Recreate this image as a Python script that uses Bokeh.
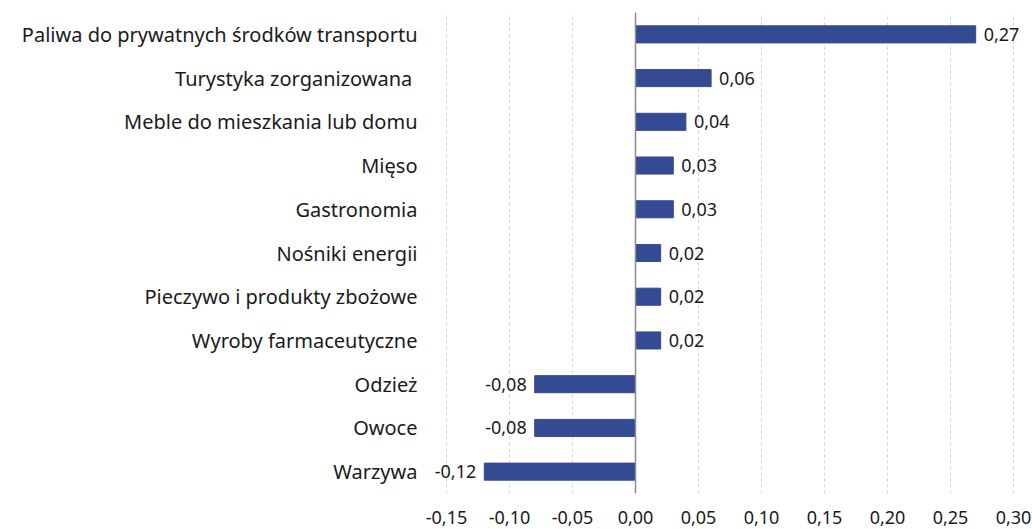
from bokeh.plotting import figure
from bokeh.models import ColumnDataSource, Range1d, FactorRange, LabelSet, Span, CustomJSTickFormatter, FixedTicker
from bokeh.core.properties import value
from bokeh.embed import file_html
from bokeh.resources import INLINE

categories = [
    "Paliwa do prywatnych środków transportu",
    "Turystyka zorganizowana ",
    "Meble do mieszkania lub domu",
    "Mięso",
    "Gastronomia",
    "Nośniki energii",
    "Pieczywo i produkty zbożowe",
    "Wyroby farmaceutyczne",
    "Odzież",
    "Owoce",
    "Warzywa",
]
values = [0.27, 0.06, 0.04, 0.03, 0.03, 0.02, 0.02, 0.02, -0.08, -0.08, -0.12]
x_ticks = [-0.15, -0.10, -0.05, 0.0, 0.05, 0.10, 0.15, 0.20, 0.25, 0.30]

FONT = "Noto Sans"
BAR = "#344A93"

labels = [("%.2f" % v).replace(".", ",") for v in values]
aligns = ["left" if v >= 0 else "right" for v in values]
offsets = [8 if v >= 0 else -8 for v in values]

src = ColumnDataSource(dict(cat=categories, val=values, lab=labels, align=aligns, off=offsets))

# frame: 1260 px per unit; extra room beyond -0.15 / 0.30 so value labels are not clipped
PX = 1260.0
W, H = 1032, 529
LEFT, RIGHT = 426, 2
x_lo = x_ticks[0] - 20 / PX
x_hi = x_lo + (W - LEFT - RIGHT) / PX

p = figure(width=W, height=H, output_backend="svg", toolbar_location=None,
           y_range=FactorRange(*list(reversed(categories)), range_padding=0),
           x_range=Range1d(x_lo, x_hi),
           min_border_left=LEFT, min_border_right=RIGHT, min_border_top=12, min_border_bottom=36)
p.outline_line_color = None

p.hbar(y="cat", right="val", left=0, height=0.39, source=src, fill_color=BAR, line_color=BAR)

p.add_layout(Span(location=0, dimension="height", line_color="#8c8c8c", line_width=1.5))

ls = LabelSet(x="val", y="cat", text="lab", source=src, text_align="align", x_offset="off",
              text_baseline="middle", text_font=value(FONT), text_font_size="18px", text_color="#1a1a1a")
p.add_layout(ls)

p.xgrid.grid_line_color = "#d4d4d4"
p.xgrid.grid_line_dash = "3 3"
p.xgrid.grid_line_width = 1
p.ygrid.grid_line_color = None

p.xaxis.ticker = FixedTicker(ticks=x_ticks)
p.xaxis.formatter = CustomJSTickFormatter(code="return tick.toFixed(2).replace('.', ',');")
for ax in (p.xaxis, p.yaxis):
    ax.axis_line_color = None
    ax.major_tick_line_color = None
    ax.minor_tick_line_color = None
    ax.major_label_text_font = FONT
    ax.major_label_text_color = "#1a1a1a"
p.xaxis.major_label_text_font_size = "18px"
p.yaxis.major_label_text_font_size = "20px"
p.xaxis.major_label_standoff = 11
p.yaxis.major_label_standoff = 3

open("out.html", "w").write(file_html(p, INLINE))
